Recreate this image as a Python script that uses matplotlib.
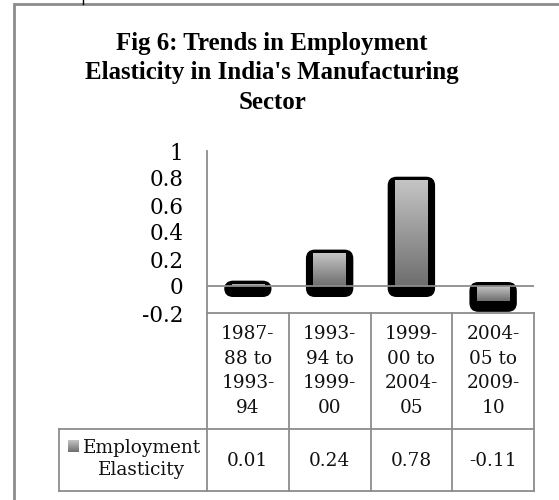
import numpy as np
import matplotlib
matplotlib.use("Agg")
import matplotlib.pyplot as plt
from matplotlib.patches import FancyBboxPatch, Rectangle
from matplotlib.colors import LinearSegmentedColormap
from matplotlib.lines import Line2D

# ---- data -------------------------------------------------------------
periods = ["1987-\n88 to\n1993-\n94", "1993-\n94 to\n1999-\n00",
           "1999-\n00 to\n2004-\n05", "2004-\n05 to\n2009-\n10"]
elasticity = [0.01, 0.24, 0.78, -0.11]
value_labels = ["0.01", "0.24", "0.78", "-0.11"]
series_name = "Employment\nElasticity"
y_ticks = [-0.2, 0, 0.2, 0.4, 0.6, 0.8, 1]
y_tick_labels = ["-0.2", "0", "0.2", "0.4", "0.6", "0.8", "1"]
title = "Fig 6: Trends in Employment\nElasticity in India's Manufacturing\nSector"

# ---- figure -----------------------------------------------------------
W, H, DPI = 559, 500, 100
fig = plt.figure(figsize=(W / DPI, H / DPI), dpi=DPI)
fig.patch.set_facecolor("white")

GRID = "#8c8c8c"
SERIF = "DejaVu Serif"
TXT = 13.3

def fx(px):
    return px / W

def fy(py):
    return 1 - py / H

# plot area in pixels
L, R, T, B = 207, 534, 151, 313
ax = fig.add_axes([fx(L), fy(B), fx(R) - fx(L), fy(T) - fy(B)])
ax.set_xlim(-0.5, len(periods) - 0.5)
ax.set_ylim(min(y_ticks), max(y_ticks))
for s in ["top", "right", "bottom"]:
    ax.spines[s].set_visible(False)
ax.spines["left"].set_color(GRID)
ax.spines["left"].set_linewidth(1.3)
ax.set_xticks([])
ax.set_yticks(y_ticks)
ax.set_yticklabels(y_tick_labels, fontsize=15.5, family=SERIF)
ax.tick_params(axis="y", length=0, pad=17)
ax.set_facecolor("none")

# zero line above the bars
ax.axhline(0, color=GRID, lw=1.3, zorder=5)

# gradient bars with a heavy black rounded rim
px_x = (R - L) / len(periods)            # pixels per category
px_y = (B - T) / (max(y_ticks) - min(y_ticks))  # pixels per unit
aspect = px_x / px_y
cmap = LinearSegmentedColormap.from_list("bevel", ["#6e6e6e", "#c4c4c4"])
grad = np.linspace(0, 1, 64).reshape(-1, 1)
inner_w = 0.40
rim_w = 0.29
for i, v in enumerate(elasticity):
    top = max(v, 0) + 4 / px_y
    bot = min(v, 0) - 11 / px_y
    rim = FancyBboxPatch((i - rim_w, bot), 2 * rim_w, top - bot,
                         boxstyle="round,pad=0,rounding_size=0.11",
                         mutation_aspect=aspect,
                         facecolor="black", edgecolor="black", lw=0, zorder=2)
    ax.add_patch(rim)
    ax.imshow(grad, extent=[i - inner_w / 2, i + inner_w / 2, min(v, 0), max(v, 0)],
              origin="lower", cmap=cmap, aspect="auto", zorder=3,
              interpolation="bilinear")
ax.set_xlim(-0.5, len(periods) - 0.5)
ax.set_ylim(min(y_ticks), max(y_ticks))

# ---- data table -------------------------------------------------------
row1_bot, row2_bot = 429, 491
key_left = 59
col_edges = [L + k * px_x for k in range(len(periods) + 1)]

def hline(x0, x1, y):
    fig.add_artist(Line2D([fx(x0), fx(x1)], [fy(y), fy(y)], color=GRID, lw=1.3))

def vline(x, y0, y1):
    fig.add_artist(Line2D([fx(x), fx(x)], [fy(y0), fy(y1)], color=GRID, lw=1.3))

hline(L, R, B)
hline(key_left, R, row1_bot)
hline(key_left, R, row2_bot)
for x in col_edges:
    vline(x, B, row2_bot)
vline(key_left, row1_bot, row2_bot)

for k, (lab, val) in enumerate(zip(periods, value_labels)):
    cx = (col_edges[k] + col_edges[k + 1]) / 2
    fig.text(fx(cx), fy((B + row1_bot) / 2), lab, ha="center", va="center",
             fontsize=TXT, family=SERIF, linespacing=1.47, color="#111111")
    fig.text(fx(cx), fy((row1_bot + row2_bot) / 2 + 1), val, ha="center", va="center",
             fontsize=TXT, family=SERIF, color="#111111")

# legend key + series name
key_ax = fig.add_axes([fx(68), fy(452), fx(11), 12 / H])
key_ax.imshow(grad, origin="lower", cmap=cmap, aspect="auto",
              extent=[0, 1, 0, 1])
key_ax.axis("off")
fig.text(fx(142), fy(459), series_name, ha="center", va="center",
         fontsize=TXT, family=SERIF, linespacing=1.3, color="#111111",
         multialignment="center")

# ---- title and frame --------------------------------------------------
fig.text(fx(272), fy(73), title, ha="center", va="center",
         fontsize=17.9, family="Liberation Serif", fontweight="bold",
         linespacing=1.35)

fig.add_artist(Rectangle((fx(13.5), fy(H + 10)), fx(W + 10), fy(4.5) - fy(H + 10),
                         fill=False, edgecolor=GRID, lw=2))
fig.add_artist(Line2D([fx(83), fx(83)], [fy(0), fy(4)], color="black", lw=1))

fig.savefig("out.png", dpi=DPI)
